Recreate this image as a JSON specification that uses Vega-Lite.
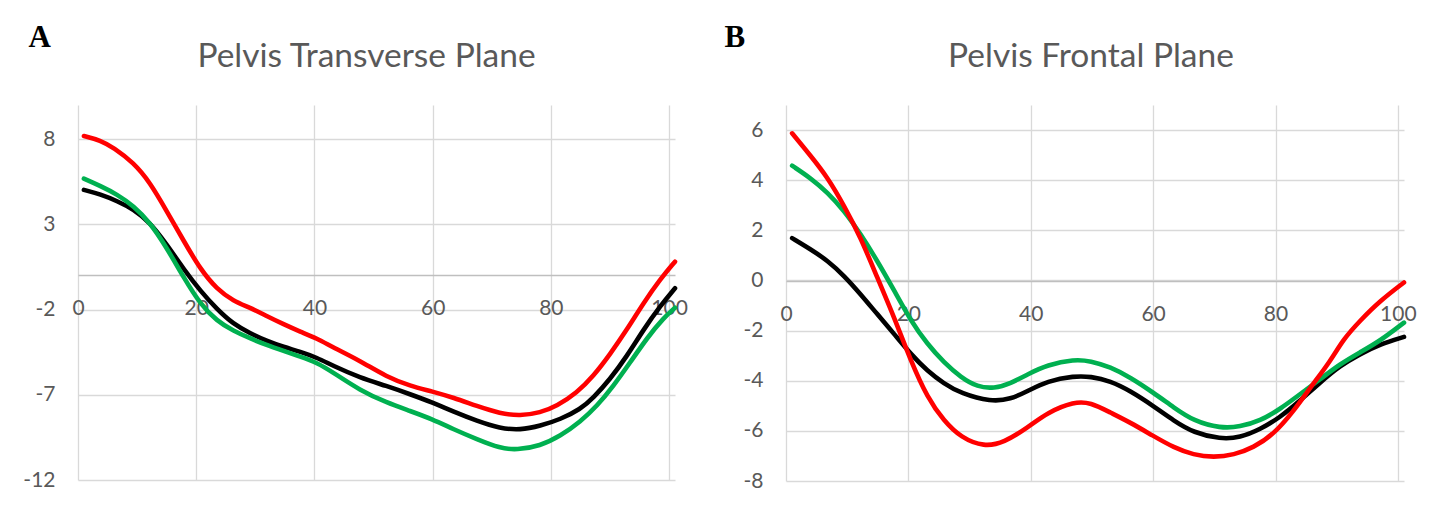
{
  "$schema": "https://vega.github.io/schema/vega-lite/v6.json",
  "background": "white",
  "padding": {"left": 22, "top": 21, "right": 0, "bottom": 0},
  "bounds": "flush",
  "spacing": 111,
  "config": {"view": {"stroke": null}},
  "datasets": {
    "d": [
      {"panel":"A","series":"Series 1","x":1,"y":5.02},{"panel":"A","series":"Series 1","x":3.8,"y":4.76},{"panel":"A","series":"Series 1","x":6.6,"y":4.37},{"panel":"A","series":"Series 1","x":9.4,"y":3.88},{"panel":"A","series":"Series 1","x":12.2,"y":3.1},{"panel":"A","series":"Series 1","x":15,"y":1.83},{"panel":"A","series":"Series 1","x":17.9,"y":0.36},{"panel":"A","series":"Series 1","x":20.7,"y":-0.91},{"panel":"A","series":"Series 1","x":23.5,"y":-1.98},{"panel":"A","series":"Series 1","x":26.3,"y":-2.86},{"panel":"A","series":"Series 1","x":29.1,"y":-3.39},{"panel":"A","series":"Series 1","x":31.9,"y":-3.84},{"panel":"A","series":"Series 1","x":34.8,"y":-4.2},{"panel":"A","series":"Series 1","x":37.6,"y":-4.47},{"panel":"A","series":"Series 1","x":40.4,"y":-4.82},{"panel":"A","series":"Series 1","x":43.2,"y":-5.31},{"panel":"A","series":"Series 1","x":47.7,"y":-6.0},{"panel":"A","series":"Series 1","x":52.2,"y":-6.48},{"panel":"A","series":"Series 1","x":56.2,"y":-6.97},{"panel":"A","series":"Series 1","x":60,"y":-7.46},{"panel":"A","series":"Series 1","x":63.5,"y":-7.99},{"panel":"A","series":"Series 1","x":67.5,"y":-8.54},{"panel":"A","series":"Series 1","x":71.4,"y":-8.97},{"panel":"A","series":"Series 1","x":74.8,"y":-9.07},{"panel":"A","series":"Series 1","x":78.2,"y":-8.83},{"panel":"A","series":"Series 1","x":81.6,"y":-8.44},{"panel":"A","series":"Series 1","x":85,"y":-7.85},{"panel":"A","series":"Series 1","x":87.2,"y":-7.17},{"panel":"A","series":"Series 1","x":90,"y":-6.09},{"panel":"A","series":"Series 1","x":92.9,"y":-4.72},{"panel":"A","series":"Series 1","x":95.7,"y":-3.16},{"panel":"A","series":"Series 1","x":98.5,"y":-1.79},{"panel":"A","series":"Series 1","x":101,"y":-0.75},
      {"panel":"A","series":"Series 2","x":1,"y":5.68},{"panel":"A","series":"Series 2","x":3.8,"y":5.25},{"panel":"A","series":"Series 2","x":6.6,"y":4.76},{"panel":"A","series":"Series 2","x":9.4,"y":4.08},{"panel":"A","series":"Series 2","x":12.2,"y":3.1},{"panel":"A","series":"Series 2","x":15,"y":1.63},{"panel":"A","series":"Series 2","x":17.9,"y":-0.13},{"panel":"A","series":"Series 2","x":20.7,"y":-1.69},{"panel":"A","series":"Series 2","x":23.5,"y":-2.67},{"panel":"A","series":"Series 2","x":26.3,"y":-3.26},{"panel":"A","series":"Series 2","x":29.1,"y":-3.69},{"panel":"A","series":"Series 2","x":31.9,"y":-4.08},{"panel":"A","series":"Series 2","x":34.8,"y":-4.43},{"panel":"A","series":"Series 2","x":37.6,"y":-4.76},{"panel":"A","series":"Series 2","x":40.4,"y":-5.11},{"panel":"A","series":"Series 2","x":43.2,"y":-5.7},{"panel":"A","series":"Series 2","x":47.7,"y":-6.74},{"panel":"A","series":"Series 2","x":52.2,"y":-7.46},{"panel":"A","series":"Series 2","x":56.2,"y":-7.95},{"panel":"A","series":"Series 2","x":60,"y":-8.44},{"panel":"A","series":"Series 2","x":63.5,"y":-9.02},{"panel":"A","series":"Series 2","x":67.5,"y":-9.61},{"panel":"A","series":"Series 2","x":71.4,"y":-10.14},{"panel":"A","series":"Series 2","x":74.2,"y":-10.24},{"panel":"A","series":"Series 2","x":78.2,"y":-10.0},{"panel":"A","series":"Series 2","x":81.6,"y":-9.42},{"panel":"A","series":"Series 2","x":85,"y":-8.58},{"panel":"A","series":"Series 2","x":87.8,"y":-7.66},{"panel":"A","series":"Series 2","x":90.6,"y":-6.48},{"panel":"A","series":"Series 2","x":93.4,"y":-5.11},{"panel":"A","series":"Series 2","x":96.3,"y":-3.65},{"panel":"A","series":"Series 2","x":99.1,"y":-2.48},{"panel":"A","series":"Series 2","x":101,"y":-1.89},
      {"panel":"A","series":"Series 3","x":1,"y":8.18},{"panel":"A","series":"Series 3","x":3.8,"y":7.93},{"panel":"A","series":"Series 3","x":6,"y":7.5},{"panel":"A","series":"Series 3","x":9.4,"y":6.62},{"panel":"A","series":"Series 3","x":12.2,"y":5.45},{"panel":"A","series":"Series 3","x":15,"y":3.78},{"panel":"A","series":"Series 3","x":17.9,"y":2.02},{"panel":"A","series":"Series 3","x":20.7,"y":0.36},{"panel":"A","series":"Series 3","x":23.5,"y":-0.81},{"panel":"A","series":"Series 3","x":26.3,"y":-1.5},{"panel":"A","series":"Series 3","x":29.1,"y":-1.89},{"panel":"A","series":"Series 3","x":31.9,"y":-2.38},{"panel":"A","series":"Series 3","x":34.8,"y":-2.87},{"panel":"A","series":"Series 3","x":37.6,"y":-3.3},{"panel":"A","series":"Series 3","x":40.4,"y":-3.69},{"panel":"A","series":"Series 3","x":43.2,"y":-4.23},{"panel":"A","series":"Series 3","x":47.7,"y":-5.0},{"panel":"A","series":"Series 3","x":52.2,"y":-5.95},{"panel":"A","series":"Series 3","x":56.2,"y":-6.48},{"panel":"A","series":"Series 3","x":60,"y":-6.81},{"panel":"A","series":"Series 3","x":63.5,"y":-7.17},{"panel":"A","series":"Series 3","x":67.5,"y":-7.66},{"panel":"A","series":"Series 3","x":71.4,"y":-8.1},{"panel":"A","series":"Series 3","x":74.8,"y":-8.24},{"panel":"A","series":"Series 3","x":78.2,"y":-8.05},{"panel":"A","series":"Series 3","x":81,"y":-7.66},{"panel":"A","series":"Series 3","x":84.4,"y":-6.88},{"panel":"A","series":"Series 3","x":87.2,"y":-5.9},{"panel":"A","series":"Series 3","x":90,"y":-4.63},{"panel":"A","series":"Series 3","x":92.9,"y":-3.16},{"panel":"A","series":"Series 3","x":95.7,"y":-1.6},{"panel":"A","series":"Series 3","x":98.5,"y":-0.22},{"panel":"A","series":"Series 3","x":101,"y":0.81},
      {"panel":"B","series":"Series 1","x":1,"y":1.69},{"panel":"B","series":"Series 1","x":4,"y":1.25},{"panel":"B","series":"Series 1","x":6.8,"y":0.79},{"panel":"B","series":"Series 1","x":9.5,"y":0.19},{"panel":"B","series":"Series 1","x":12.2,"y":-0.55},{"panel":"B","series":"Series 1","x":14.9,"y":-1.34},{"panel":"B","series":"Series 1","x":17.7,"y":-2.14},{"panel":"B","series":"Series 1","x":20.4,"y":-2.94},{"panel":"B","series":"Series 1","x":23.1,"y":-3.61},{"panel":"B","series":"Series 1","x":25.8,"y":-4.11},{"panel":"B","series":"Series 1","x":28.6,"y":-4.51},{"panel":"B","series":"Series 1","x":33.5,"y":-4.84},{"panel":"B","series":"Series 1","x":36.7,"y":-4.74},{"panel":"B","series":"Series 1","x":39.5,"y":-4.41},{"panel":"B","series":"Series 1","x":42.7,"y":-4.01},{"panel":"B","series":"Series 1","x":47.1,"y":-3.81},{"panel":"B","series":"Series 1","x":49.8,"y":-3.83},{"panel":"B","series":"Series 1","x":53,"y":-4.01},{"panel":"B","series":"Series 1","x":56.3,"y":-4.41},{"panel":"B","series":"Series 1","x":60,"y":-5.0},{"panel":"B","series":"Series 1","x":63.4,"y":-5.6},{"panel":"B","series":"Series 1","x":66.6,"y":-6.07},{"panel":"B","series":"Series 1","x":71,"y":-6.33},{"panel":"B","series":"Series 1","x":74.2,"y":-6.27},{"panel":"B","series":"Series 1","x":77.5,"y":-5.94},{"panel":"B","series":"Series 1","x":80.7,"y":-5.47},{"panel":"B","series":"Series 1","x":84,"y":-4.8},{"panel":"B","series":"Series 1","x":87.3,"y":-4.07},{"panel":"B","series":"Series 1","x":90.5,"y":-3.41},{"panel":"B","series":"Series 1","x":93.8,"y":-2.94},{"panel":"B","series":"Series 1","x":97.1,"y":-2.54},{"panel":"B","series":"Series 1","x":101,"y":-2.25},
      {"panel":"B","series":"Series 2","x":1,"y":4.58},{"panel":"B","series":"Series 2","x":4,"y":4.09},{"panel":"B","series":"Series 2","x":6.8,"y":3.51},{"panel":"B","series":"Series 2","x":9.5,"y":2.78},{"panel":"B","series":"Series 2","x":12.2,"y":1.85},{"panel":"B","series":"Series 2","x":14.9,"y":0.79},{"panel":"B","series":"Series 2","x":17.7,"y":-0.41},{"panel":"B","series":"Series 2","x":20.4,"y":-1.61},{"panel":"B","series":"Series 2","x":23.1,"y":-2.54},{"panel":"B","series":"Series 2","x":25.8,"y":-3.27},{"panel":"B","series":"Series 2","x":28.6,"y":-3.87},{"panel":"B","series":"Series 2","x":31.3,"y":-4.25},{"panel":"B","series":"Series 2","x":34,"y":-4.31},{"panel":"B","series":"Series 2","x":36.7,"y":-4.11},{"panel":"B","series":"Series 2","x":39.5,"y":-3.74},{"panel":"B","series":"Series 2","x":42.7,"y":-3.37},{"panel":"B","series":"Series 2","x":47.1,"y":-3.14},{"panel":"B","series":"Series 2","x":49.8,"y":-3.21},{"panel":"B","series":"Series 2","x":53,"y":-3.45},{"panel":"B","series":"Series 2","x":56.3,"y":-3.87},{"panel":"B","series":"Series 2","x":60,"y":-4.47},{"panel":"B","series":"Series 2","x":63.4,"y":-5.07},{"panel":"B","series":"Series 2","x":66.6,"y":-5.6},{"panel":"B","series":"Series 2","x":71,"y":-5.9},{"panel":"B","series":"Series 2","x":74.2,"y":-5.84},{"panel":"B","series":"Series 2","x":77.5,"y":-5.6},{"panel":"B","series":"Series 2","x":80.7,"y":-5.14},{"panel":"B","series":"Series 2","x":84,"y":-4.54},{"panel":"B","series":"Series 2","x":87.3,"y":-3.94},{"panel":"B","series":"Series 2","x":90.5,"y":-3.34},{"panel":"B","series":"Series 2","x":93.8,"y":-2.87},{"panel":"B","series":"Series 2","x":97.1,"y":-2.41},{"panel":"B","series":"Series 2","x":101,"y":-1.68},
      {"panel":"B","series":"Series 3","x":1,"y":5.87},{"panel":"B","series":"Series 3","x":4,"y":4.98},{"panel":"B","series":"Series 3","x":6.8,"y":4.11},{"panel":"B","series":"Series 3","x":9.5,"y":2.98},{"panel":"B","series":"Series 3","x":12.2,"y":1.72},{"panel":"B","series":"Series 3","x":14.9,"y":0.12},{"panel":"B","series":"Series 3","x":17.7,"y":-1.48},{"panel":"B","series":"Series 3","x":20.4,"y":-3.21},{"panel":"B","series":"Series 3","x":23.1,"y":-4.67},{"panel":"B","series":"Series 3","x":25.8,"y":-5.6},{"panel":"B","series":"Series 3","x":28.6,"y":-6.27},{"panel":"B","series":"Series 3","x":32.4,"y":-6.64},{"panel":"B","series":"Series 3","x":35.6,"y":-6.47},{"panel":"B","series":"Series 3","x":39.5,"y":-5.87},{"panel":"B","series":"Series 3","x":42.7,"y":-5.27},{"panel":"B","series":"Series 3","x":47.1,"y":-4.83},{"panel":"B","series":"Series 3","x":49.8,"y":-4.87},{"panel":"B","series":"Series 3","x":53,"y":-5.27},{"panel":"B","series":"Series 3","x":56.3,"y":-5.67},{"panel":"B","series":"Series 3","x":60,"y":-6.2},{"panel":"B","series":"Series 3","x":63.4,"y":-6.67},{"panel":"B","series":"Series 3","x":66.6,"y":-6.96},{"panel":"B","series":"Series 3","x":69.9,"y":-7.06},{"panel":"B","series":"Series 3","x":73.2,"y":-6.96},{"panel":"B","series":"Series 3","x":76.4,"y":-6.67},{"panel":"B","series":"Series 3","x":79.7,"y":-6.14},{"panel":"B","series":"Series 3","x":83,"y":-5.2},{"panel":"B","series":"Series 3","x":85.7,"y":-4.27},{"panel":"B","series":"Series 3","x":89,"y":-3.21},{"panel":"B","series":"Series 3","x":91.1,"y":-2.34},{"panel":"B","series":"Series 3","x":93.8,"y":-1.61},{"panel":"B","series":"Series 3","x":97.1,"y":-0.81},{"panel":"B","series":"Series 3","x":101,"y":-0.08}
    ]
  },
  "data": {"name": "d"},
  "hconcat": [
    {
      "width": 597,
      "height": 375,
      "title": {"text": "Pelvis Transverse Plane", "font": "Lato", "fontSize": 33.5, "fontWeight": "normal", "color": "#595959", "anchor": "middle", "frame": "group", "dx": -10, "baseline": "alphabetic", "offset": -79},
      "transform": [{"filter": "datum.panel === 'A'"}],
      "mark": {"type": "line", "interpolate": "basis", "strokeWidth": 4.6, "strokeCap": "round"},
      "encoding": {
        "x": {"field": "x", "type": "quantitative", "scale": {"domain": [0, 101], "nice": false, "zero": false},
          "axis": {"values": [0, 20, 40, 60, 80, 100], "labelExpr": "'' + datum.value", "offset": -205, "title": null, "grid": true, "gridColor": "#D9D9D9", "gridWidth": 1.3, "domainColor": "#BFBFBF", "domainWidth": 1.3, "ticks": false, "labelPadding": 22, "labelFont": "Lato", "labelFontSize": 21, "labelColor": "#595959", "labelFlush": false, "labelOverlap": false}},
        "y": {"field": "y", "type": "quantitative", "scale": {"domain": [-12, 10], "nice": false, "zero": false},
          "axis": {"values": [-12, -7, -2, 3, 8], "labelExpr": "'' + datum.value", "title": "A", "titleAngle": 0, "titleX": -50, "titleY": -59, "titleAlign": "left", "titleBaseline": "alphabetic", "titleFont": "Liberation Serif", "titleFontWeight": "bold", "titleFontSize": 31, "titleColor": "#000000", "grid": true, "gridColor": "#D9D9D9", "gridWidth": 1.3, "domain": false, "ticks": false, "labelPadding": 23, "labelFont": "Lato", "labelFontSize": 21, "labelColor": "#595959"}},
        "color": {"field": "series", "type": "nominal", "scale": {"domain": ["Series 1", "Series 2", "Series 3"], "range": ["#000000", "#00B050", "#FF0000"]}, "legend": null}
      }
    },
    {
      "width": 618,
      "height": 376,
      "title": {"text": "Pelvis Frontal Plane", "font": "Lato", "fontSize": 33.5, "fontWeight": "normal", "color": "#595959", "anchor": "middle", "frame": "group", "dx": -4, "baseline": "alphabetic", "offset": -79},
      "transform": [{"filter": "datum.panel === 'B'"}],
      "mark": {"type": "line", "interpolate": "basis", "strokeWidth": 4.6, "strokeCap": "round"},
      "encoding": {
        "x": {"field": "x", "type": "quantitative", "scale": {"domain": [0, 101], "nice": false, "zero": false},
          "axis": {"values": [0, 20, 40, 60, 80, 100], "labelExpr": "'' + datum.value", "offset": -200, "title": null, "grid": true, "gridColor": "#D9D9D9", "gridWidth": 1.3, "domainColor": "#BFBFBF", "domainWidth": 1.3, "ticks": false, "labelPadding": 22, "labelFont": "Lato", "labelFontSize": 21, "labelColor": "#595959", "labelFlush": false, "labelOverlap": false}},
        "y": {"field": "y", "type": "quantitative", "scale": {"domain": [-8, 7], "nice": false, "zero": false},
          "axis": {"values": [-8, -6, -4, -2, 0, 2, 4, 6], "labelExpr": "'' + datum.value", "title": "B", "titleAngle": 0, "titleX": -62, "titleY": -59, "titleAlign": "left", "titleBaseline": "alphabetic", "titleFont": "Liberation Serif", "titleFontWeight": "bold", "titleFontSize": 31, "titleColor": "#000000", "grid": true, "gridColor": "#D9D9D9", "gridWidth": 1.3, "domain": false, "ticks": false, "labelPadding": 23, "labelFont": "Lato", "labelFontSize": 21, "labelColor": "#595959"}},
        "color": {"field": "series", "type": "nominal", "scale": {"domain": ["Series 1", "Series 2", "Series 3"], "range": ["#000000", "#00B050", "#FF0000"]}, "legend": null}
      }
    }
  ]
}
